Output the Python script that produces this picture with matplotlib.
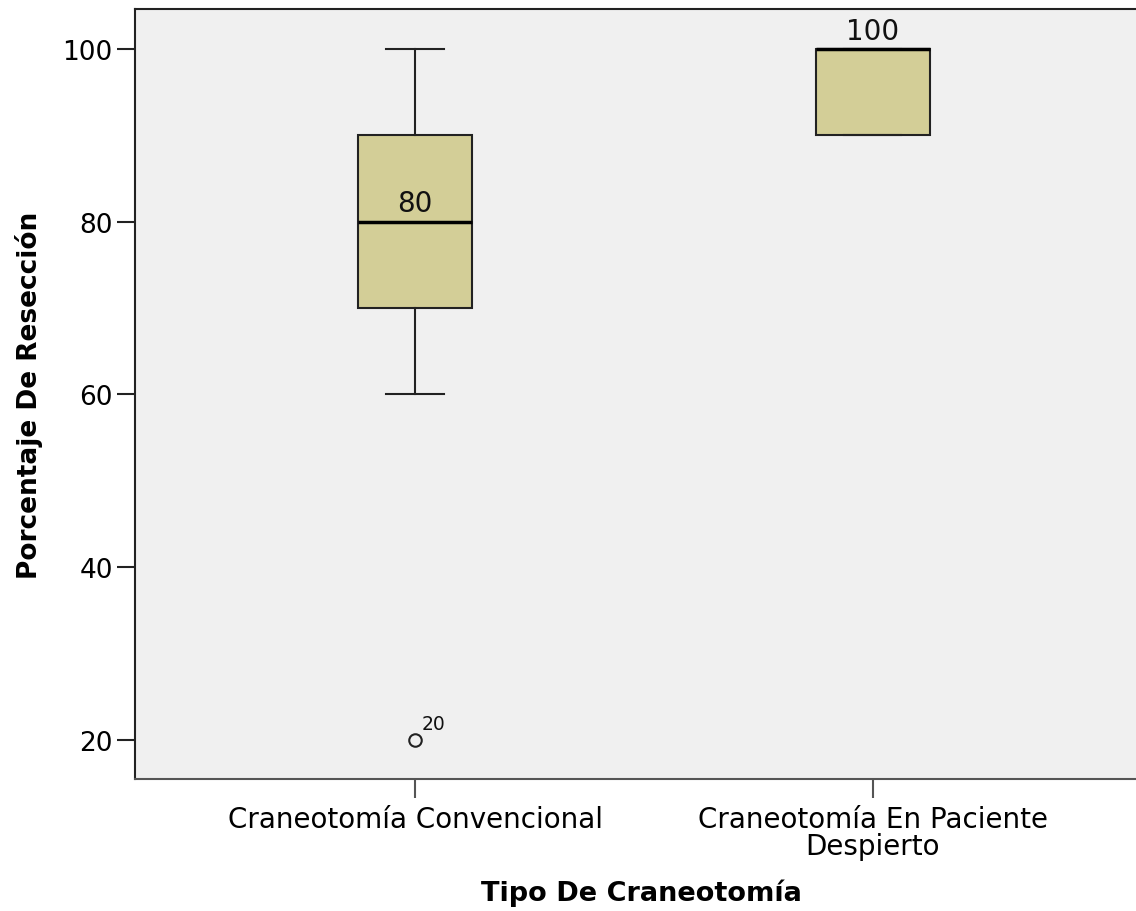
import matplotlib
matplotlib.use('Agg')
import matplotlib.pyplot as plt

# values
categories = ['Craneotomía Convencional', 'Craneotomía En Paciente\nDespierto']
q1 = [70, 90]
medians = [80, 100]
q3 = [90, 100]
whisker_low = [60, 90]
whisker_high = [100, 100]
outliers = [[20], []]
outlier_ids = [['20'], []]

box_color = '#d3ce97'
bg_color = '#f0f0f0'

plt.rcParams['font.family'] = ['DejaVu Sans']

fig = plt.figure(figsize=(11.36, 9.12), dpi=100)
ax = fig.add_axes([0.1188, 0.1447, 0.8812 + 0.01, 0.989 - 0.1447])
ax.set_facecolor(bg_color)

stats = []
for i in range(len(categories)):
    stats.append({'q1': q1[i], 'med': medians[i], 'q3': q3[i],
                  'whislo': whisker_low[i], 'whishi': whisker_high[i],
                  'fliers': outliers[i]})

ax.bxp(stats, positions=range(len(categories)), widths=0.25,
       patch_artist=True, showfliers=True,
       boxprops=dict(facecolor=box_color, edgecolor='#222222', linewidth=1.5),
       medianprops=dict(color='black', linewidth=2.5),
       whiskerprops=dict(color='#222222', linewidth=1.5),
       capprops=dict(color='#222222', linewidth=1.5),
       capwidths=0.125,
       flierprops=dict(marker='o', markerfacecolor='none', markeredgecolor='#222222',
                       markersize=9, markeredgewidth=1.5))

# median labels and outlier ids
for i, m in enumerate(medians):
    ax.annotate(str(m), (i, m), xytext=(0, 3), textcoords='offset points',
                ha='center', va='bottom', fontsize=20, color='#111111')
for i, (vals, ids) in enumerate(zip(outliers, outlier_ids)):
    for v, lab in zip(vals, ids):
        ax.annotate(lab, (i, v), xytext=(5, 5), textcoords='offset points',
                    ha='left', va='bottom', fontsize=13.5, color='#111111')

ax.set_xlim(-0.612, 1.6)
ax.set_ylim(15.5, 104.6)
ax.set_yticks([20, 40, 60, 80, 100])
ax.set_xticks(range(len(categories)))
ax.set_xticklabels(categories, fontsize=20, linespacing=0.95)
ax.tick_params(axis='y', labelsize=19, length=13, width=1.5, color='#222222', pad=3)
ax.tick_params(axis='x', length=14, width=1.5, color='#555555', pad=5)

for side in ['left', 'top', 'bottom']:
    ax.spines[side].set_linewidth(1.5)
    ax.spines[side].set_color('#222222')
ax.spines['bottom'].set_color('#555555')
ax.spines['right'].set_visible(False)

ax.set_ylabel('Porcentaje De Resección', fontsize=19, fontweight='bold', labelpad=14)
ax.set_xlabel('Tipo De Craneotomía', fontsize=19.5, fontweight='bold', labelpad=13)

fig.savefig('out.png', dpi=100, facecolor='white')
